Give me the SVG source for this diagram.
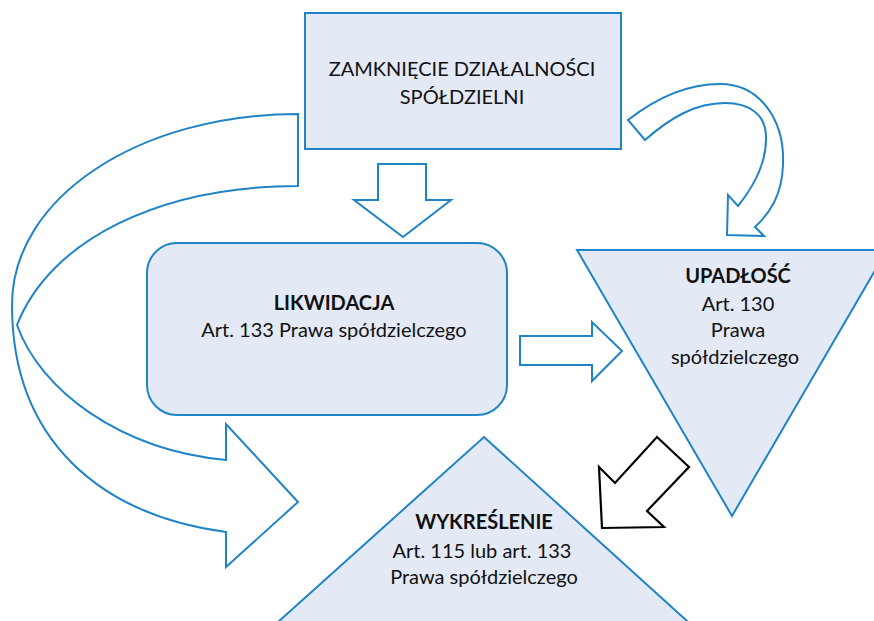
<svg xmlns="http://www.w3.org/2000/svg" width="874" height="621" viewBox="0 0 874 621">
  <style>
    .node { fill: #e3e9f5; stroke: #1f84c6; stroke-width: 2; }
    .blue-arrow { fill: #ffffff; stroke: #1f84c6; stroke-width: 2; stroke-linejoin: miter; }
    .black-arrow { fill: #ffffff; stroke: #000000; stroke-width: 2.2; }
    text { font-family: Lato, "Noto Sans", sans-serif; font-size: 20px; fill: #111111; text-anchor: middle; }
    .b { font-weight: bold; }
  </style>

  <!-- connectors -->
  <g id="connectors">
    <!-- big curved arrow on the left: closure straight to deletion -->
    <path class="blue-arrow" fill="none" d="M298,114 C140,114 12,197 12,305 C12,440 100,515 226,532 L226,567 L298,502 L226,424 L226,460 C120,450 40,390 17,325 C50,240 160,186 298,186 Z"/>
    <!-- curved arrow on the top right: closure to bankruptcy -->
    <path class="blue-arrow" d="M628,120 C660,95 690,84 720,84 C760,84 785,120 783,165 C782,195 770,213 755,227 L764,236 L727,235 L728,195 L738,206 C755,185 767,160 766,135 C765,115 750,103 725,103 C695,103 670,118 645,140 Z"/>
    <!-- block arrow down: closure to liquidation -->
    <polygon class="blue-arrow" points="378,164 426,164 426,200 451,200 403,237 354,200 378,200"/>
    <!-- block arrow right: liquidation to bankruptcy -->
    <polygon class="blue-arrow" points="520,336 592,336 592,322 622,351 592,381 592,365 520,365"/>
    <!-- black arrow: bankruptcy to deletion -->
    <polygon class="black-arrow" points="602,528 599,467 615,483 657,437 689,467 647,511 664,527"/>
  </g>

  <g id="zamkniecie">
    <rect class="node" x="305" y="13" width="316" height="136"/>
    <text x="462" y="76">ZAMKNIĘCIE DZIAŁALNOŚCI</text>
    <text x="462" y="104">SPÓŁDZIELNI</text>
  </g>

  <g id="likwidacja">
    <rect class="node" x="147" y="243" width="360" height="172" rx="30" ry="30"/>
    <text class="b" x="334" y="310">LIKWIDACJA</text>
    <text x="334" y="337">Art. 133 Prawa spółdzielczego</text>
  </g>

  <g id="upadlosc">
    <polygon class="node" points="577,250 887,250 732,516"/>
    <text class="b" x="738" y="283">UPADŁOŚĆ</text>
    <text x="738" y="311">Art. 130</text>
    <text x="738" y="337">Prawa</text>
    <text x="735" y="364">spółdzielczego</text>
  </g>

  <g id="wykreslenie">
    <polygon class="node" points="484,437 708,640 258,640"/>
    <text class="b" x="484" y="529">WYKREŚLENIE</text>
    <text x="482" y="558">Art. 115 lub art. 133</text>
    <text x="484" y="584">Prawa spółdzielczego</text>
  </g>
</svg>
